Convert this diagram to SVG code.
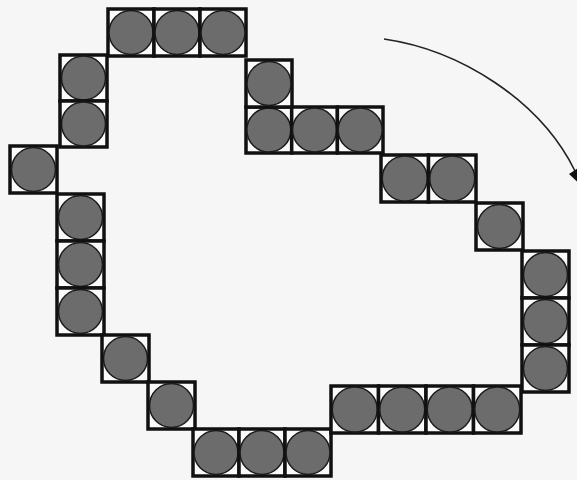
<svg xmlns="http://www.w3.org/2000/svg" width="577" height="480" viewBox="0 0 577 480">
<style>
.c rect{fill:#fafafa;stroke:#111;stroke-width:3.5}
.c circle{fill:#6c6c6c;stroke:#1a1a1a;stroke-width:1.5}
.arr{fill:none;stroke:#222;stroke-width:1.6}
.head{fill:#111}
</style>
<rect width="577" height="480" fill="#f6f6f6"/>
<g id="groupA" class="c">
<rect x="108" y="9" width="46" height="47"/><circle cx="131" cy="32.5" r="22"/>
<rect x="154" y="9" width="46" height="47"/><circle cx="177" cy="32.5" r="22"/>
<rect x="200" y="9" width="46" height="47"/><circle cx="223" cy="32.5" r="22"/>
</g>
<g id="groupB" class="c">
<rect x="60" y="55" width="47" height="46"/><circle cx="83.5" cy="78" r="22"/>
<rect x="60" y="101" width="47" height="46"/><circle cx="83.5" cy="124" r="22"/>
</g>
<g id="groupC" class="c">
<rect x="10" y="146" width="47" height="47"/><circle cx="33.5" cy="169.5" r="22"/>
</g>
<g id="groupD" class="c">
<rect x="57" y="194" width="47" height="47"/><circle cx="80.5" cy="217.5" r="22"/>
<rect x="57" y="241" width="47" height="47"/><circle cx="80.5" cy="264.5" r="22"/>
<rect x="57" y="288" width="47" height="47"/><circle cx="80.5" cy="311.5" r="22"/>
</g>
<g id="groupE" class="c">
<rect x="102" y="335" width="47" height="47"/><circle cx="125.5" cy="358.5" r="22"/>
</g>
<g id="groupF" class="c">
<rect x="148" y="382" width="47" height="47"/><circle cx="171.5" cy="405.5" r="22"/>
</g>
<g id="groupG" class="c">
<rect x="193" y="429" width="46" height="47"/><circle cx="216" cy="452.5" r="22"/>
<rect x="239" y="429" width="46" height="47"/><circle cx="262" cy="452.5" r="22"/>
<rect x="285" y="429" width="46" height="47"/><circle cx="308" cy="452.5" r="22"/>
</g>
<g id="groupH" class="c">
<rect x="331" y="386" width="47.5" height="47"/><circle cx="354.75" cy="409.5" r="22.5"/>
<rect x="378.5" y="386" width="47.5" height="47"/><circle cx="402.25" cy="409.5" r="22.5"/>
<rect x="426" y="386" width="47.5" height="47"/><circle cx="449.75" cy="409.5" r="22.5"/>
<rect x="473.5" y="386" width="47.5" height="47"/><circle cx="497.25" cy="409.5" r="22.5"/>
</g>
<g id="groupI" class="c">
<rect x="522" y="251" width="47" height="47"/><circle cx="545.5" cy="274.5" r="22"/>
<rect x="522" y="298" width="47" height="47"/><circle cx="545.5" cy="321.5" r="22"/>
<rect x="522" y="345" width="47" height="47"/><circle cx="545.5" cy="368.5" r="22"/>
</g>
<g id="groupJ" class="c">
<rect x="476" y="203" width="47" height="47"/><circle cx="499.5" cy="226.5" r="22"/>
</g>
<g id="groupK" class="c">
<rect x="381" y="155" width="47.5" height="47"/><circle cx="404.75" cy="178.5" r="22.5"/>
<rect x="428.5" y="155" width="47.5" height="47"/><circle cx="452.25" cy="178.5" r="22.5"/>
</g>
<g id="groupL" class="c">
<rect x="246" y="107" width="45.7" height="46"/><circle cx="268.85" cy="130" r="22"/>
<rect x="291.7" y="107" width="45.7" height="46"/><circle cx="314.55" cy="130" r="22"/>
<rect x="337.4" y="107" width="45.6" height="46"/><circle cx="360.2" cy="130" r="22"/>
</g>
<g id="groupM" class="c">
<rect x="246" y="60" width="46" height="47"/><circle cx="269" cy="83.5" r="22"/>
</g>
<g id="connectors">
<path class="arr" d="M384,39 C460,50 540,100 575,171"/>
<polygon class="head" points="569,174 581,166 586,190"/>
</g>
</svg>
